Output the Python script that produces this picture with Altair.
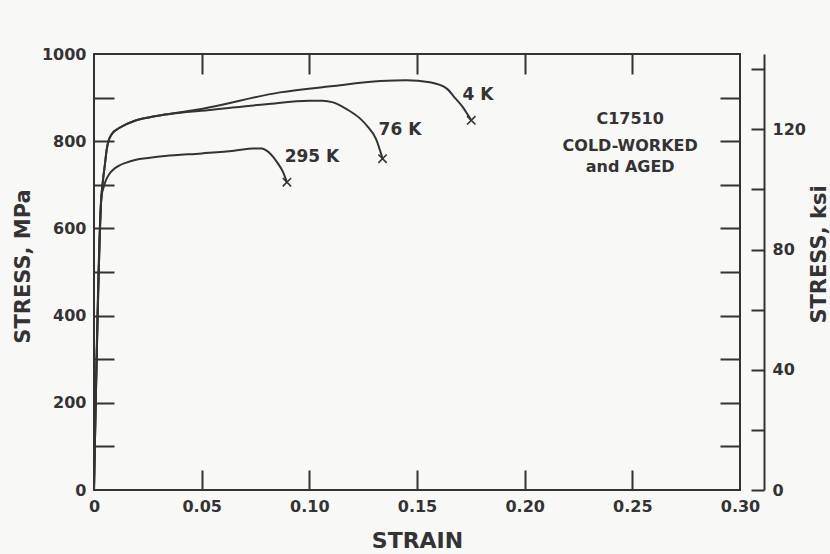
import altair as alt
import pandas as pd

# Engineering stress-strain curves for C17510 copper alloy (cold-worked and aged)
temps = ["295 K", "76 K", "4 K"]

strain_295 = [0, 0.0034, 0.0045, 0.0055, 0.0070, 0.0090, 0.0113, 0.015, 0.019, 0.026, 0.033,
              0.050, 0.065, 0.074, 0.078, 0.080, 0.085, 0.0878, 0.0896]
stress_295 = [0, 670, 695, 710, 724, 735, 743, 751, 757, 762, 766,
              772, 778, 783, 783, 779, 752, 729, 706]

strain_76 = [0, 0.0034, 0.0042, 0.0051, 0.0059, 0.0066, 0.0082, 0.0113, 0.015, 0.019, 0.026, 0.033,
             0.055, 0.080, 0.100, 0.106, 0.111, 0.1175, 0.124, 0.127, 0.131, 0.134]
stress_76 = [0, 670, 712, 748, 781, 798, 816, 829, 839, 847, 855, 861,
             872, 885, 893, 893, 889, 873, 850, 834, 805, 760]

strain_4 = [0, 0.0034, 0.0042, 0.0051, 0.0059, 0.0066, 0.0082, 0.0113, 0.015, 0.019, 0.026, 0.033,
            0.050, 0.0864, 0.110, 0.133, 0.145, 0.156, 0.164, 0.167, 0.171, 0.1752]
stress_4 = [0, 670, 712, 748, 781, 798, 816, 829, 839, 847, 855, 861,
            874, 912, 926, 938, 940, 935, 920, 903, 880, 848]

# curve labels
label_text = ["295 K", "76 K", "4 K"]
label_strain = [0.1012, 0.1421, 0.1783]
label_stress = [763, 825, 906]

# material note
note_lines = ["C17510", "COLD-WORKED", "and AGED"]
note_strain = [0.249, 0.249, 0.249]
note_stress = [851, 789, 740]

# axis ticks
x_labels = [0, 0.05, 0.10, 0.15, 0.20, 0.25, 0.30]
x_inner = [0.05, 0.10, 0.15, 0.20, 0.25]
mpa_labels = [0, 200, 400, 600, 800, 1000]
mpa_inner = [100, 200, 300, 400, 500, 600, 700, 800, 900]
ksi_labels = [0, 40, 80, 120]
ksi_ticks = [0, 20, 40, 60, 80, 100, 120, 140]

MPA_PER_KSI = 6.894757
W, H = 646, 436
INK = "#333333"
BG = "#f8f8f6"
FONT = "DejaVu Sans"

rows = []
for t, xs_, ys_ in zip(temps, [strain_295, strain_76, strain_4], [stress_295, stress_76, stress_4]):
    for s, p in zip(xs_, ys_):
        rows.append({"temp": t, "strain": s, "stress": p})
curves = pd.DataFrame(rows)

ends = pd.DataFrame({
    "temp": temps,
    "strain": [strain_295[-1], strain_76[-1], strain_4[-1]],
    "stress": [stress_295[-1], stress_76[-1], stress_4[-1]],
})
labels = pd.DataFrame({"label": label_text, "strain": label_strain, "stress": label_stress})
note = pd.DataFrame({"label": note_lines, "strain": note_strain, "stress": note_stress})

xsc = alt.Scale(domain=[0, 0.30], nice=False, zero=False)
ysc = alt.Scale(domain=[0, 1000], nice=False)
ksc = alt.Scale(domain=[0, 1000 / MPA_PER_KSI], nice=False)


def tick_axis(orient, offset, values, size):
    return alt.Axis(orient=orient, offset=offset, values=values, labels=False, domain=False,
                    ticks=True, tickSize=size, tickWidth=2, tickColor=INK, grid=False, title="")


base = alt.Chart(curves)

curves_layer = base.mark_line(interpolate="monotone", color=INK, strokeWidth=2).encode(
    x=alt.X("strain:Q", scale=xsc, axis=alt.Axis(
        values=x_labels, labelExpr="datum.value == 0 ? '0' : format(datum.value, '.2f')",
        ticks=False, tickSize=0, domain=False, grid=False, labelPadding=8, labelFlush=False,
        labelOverlap=False, title="STRAIN", titleFontSize=22, titleX=W / 2, titleY=50,
        titleAlign="center", titleBaseline="middle")),
    y=alt.Y("stress:Q", scale=ysc, axis=alt.Axis(
        values=mpa_labels, format="d", ticks=False, tickSize=0, domain=False, grid=False,
        labelPadding=8, labelFlush=False, labelOverlap=False, title="STRESS, MPa",
        titleAngle=270, titleX=-71, titleY=212, titleAlign="center", titleBaseline="middle")),
    detail="temp:N",
)

# inward ticks on the bottom and left frame edges
ticks_bl = base.mark_line(strokeOpacity=0).encode(
    x=alt.X("strain:Q", scale=xsc, axis=tick_axis("top", -H, x_inner, 20)),
    y=alt.Y("stress:Q", scale=ysc, axis=tick_axis("right", -W, mpa_inner, 20)),
    detail="temp:N",
)

# inward ticks on the top and right frame edges
ticks_tr = base.mark_line(strokeOpacity=0).encode(
    x=alt.X("strain:Q", scale=xsc, axis=tick_axis("bottom", -H, x_inner, 20)),
    y=alt.Y("stress:Q", scale=ysc, axis=tick_axis("left", -W, mpa_inner, 20)),
    detail="temp:N",
)

ksi_base = base.transform_calculate(ksi=f"datum.stress / {MPA_PER_KSI}")

# secondary stress scale in ksi: line and labels
ksi_axis = ksi_base.mark_line(strokeOpacity=0).encode(
    x=alt.X("strain:Q", scale=xsc, axis=None),
    y=alt.Y("ksi:Q", scale=ksc, axis=alt.Axis(
        orient="right", offset=24, values=ksi_labels, ticks=False, tickSize=0, domain=True,
        domainColor=INK, domainWidth=2, grid=False, labelPadding=8, labelFlush=False,
        labelOverlap=False, title="STRESS, ksi", titleAngle=270, titleX=55, titleY=200,
        titleAlign="center", titleBaseline="middle")),
    detail="temp:N",
)

# ksi ticks pointing back toward the plot
ksi_ticks_layer = ksi_base.mark_line(strokeOpacity=0).encode(
    x=alt.X("strain:Q", scale=xsc, axis=None),
    y=alt.Y("ksi:Q", scale=ksc, axis=tick_axis("left", -(W + 24), ksi_ticks, 13)),
    detail="temp:N",
)

fracture = alt.Chart(ends).mark_point(
    shape="M-1,-1L1,1M-1,1L1,-1", size=70, filled=False, color=INK, strokeWidth=1.6, opacity=1
).encode(
    x=alt.X("strain:Q", scale=xsc, axis=None),
    y=alt.Y("stress:Q", scale=ysc, axis=None),
)

curve_labels = alt.Chart(labels).mark_text(
    font=FONT, fontWeight="bold", fontSize=17, color=INK, align="center", baseline="middle"
).encode(
    x=alt.X("strain:Q", scale=xsc, axis=None),
    y=alt.Y("stress:Q", scale=ysc, axis=None),
    text="label:N",
)

note_layer = alt.Chart(note).mark_text(
    font=FONT, fontWeight="bold", fontSize=16, color=INK, align="center", baseline="middle"
).encode(
    x=alt.X("strain:Q", scale=xsc, axis=None),
    y=alt.Y("stress:Q", scale=ysc, axis=None),
    text="label:N",
)

chart = alt.layer(
    ticks_bl, ticks_tr, ksi_axis, ksi_ticks_layer, curves_layer, fracture, curve_labels, note_layer
).resolve_scale(
    y="independent"
).resolve_axis(
    x="independent", y="independent"
).properties(
    width=W, height=H,
    padding={"left": 94, "top": 54, "right": 90, "bottom": 64},
    autosize=alt.AutoSizeParams(type="none"),
).configure(
    background=BG,
).configure_view(
    stroke=INK, strokeWidth=2,
).configure_axis(
    labelFont=FONT, labelFontWeight="bold", labelFontSize=16, labelColor=INK,
    titleFont=FONT, titleFontWeight="bold", titleFontSize=21, titleColor=INK,
)

chart.save("out.html", embed_options={"renderer": "svg", "actions": False})
